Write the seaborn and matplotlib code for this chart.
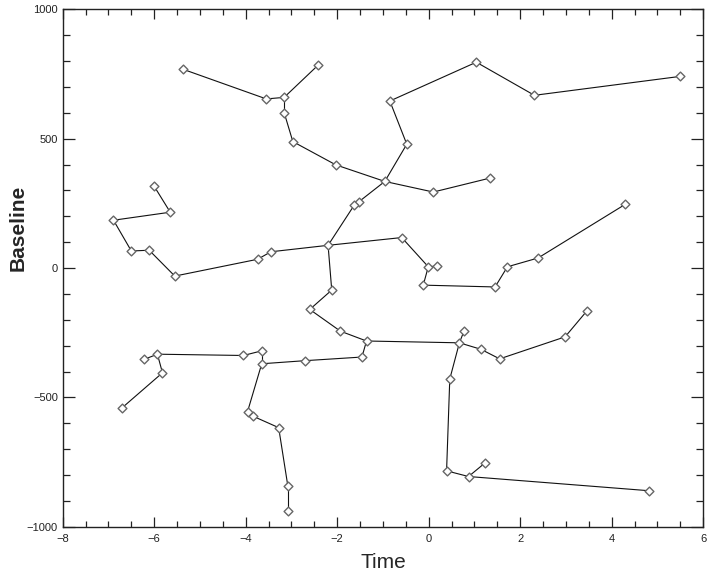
import matplotlib
matplotlib.use("Agg")
import matplotlib.pyplot as plt
from matplotlib.ticker import MultipleLocator
import numpy as np
import pandas as pd
import seaborn as sns

# Node positions of the baseline tree (time, baseline) and the parent of each node
time = [-0.96, -2.03, -2.97, -3.16, -3.16, -2.41, -3.55, -5.36,
        0.10, 1.34,
        -0.48, -0.85, 1.04, 2.31, 5.49,
        -1.53, -1.63, -2.20,
        -3.45, -3.74, -5.55, -6.11, -6.50, -6.89, -5.65, -6.01,
        -0.59, -0.01, 0.19, -0.12, 1.45, 1.72, 2.39, 4.30,
        -2.12, -2.60, -1.93, -1.36,
        0.67, 0.77, 1.14, 1.55, 2.98, 3.46,
        0.46, 0.39, 0.87, 1.24, 4.82,
        -1.46, -2.70, -3.65, -3.65, -4.05, -5.93, -6.22, -5.82, -6.70,
        -3.96, -3.85, -3.28, -3.08, -3.08]
baseline = [335, 399, 489, 601, 660, 786, 654, 768,
            294, 348,
            479, 646, 796, 668, 741,
            256, 243, 88,
            63, 34, -31, 69, 66, 185, 216, 319,
            118, 5, 8, -66, -73, 5, 39, 247,
            -85, -160, -244, -282,
            -289, -244, -314, -351, -266, -165,
            -429, -784, -806, -752, -861,
            -344, -358, -370, -320, -338, -333, -353, -405, -540,
            -555, -572, -617, -842, -939]
parent = [-1, 0, 1, 2, 3, 4, 4, 6,
          0, 8,
          0, 10, 11, 12, 13,
          0, 15, 16,
          17, 18, 19, 20, 21, 22, 23, 24,
          17, 26, 27, 27, 29, 30, 31, 32,
          17, 34, 35, 36,
          37, 38, 38, 40, 41, 42,
          38, 44, 45, 46, 46,
          37, 49, 50, 51, 52, 53, 54, 54, 56,
          51, 58, 59, 60, 61]

nodes = pd.DataFrame({"Time": time, "Baseline": baseline})

# One two-point segment per parent -> child link
rows = []
for child, par in enumerate(parent):
    if par < 0:
        continue
    rows.append({"seg": child, "Time": time[par], "Baseline": baseline[par]})
    rows.append({"seg": child, "Time": time[child], "Baseline": baseline[child]})
edges = pd.DataFrame(rows)

sns.set_style("ticks")
plt.rcParams["font.family"] = ["Liberation Sans", "DejaVu Sans"]

fig = plt.figure(figsize=(7.07, 5.76), dpi=100)
ax = fig.add_axes([0.0887, 0.0856, 0.906, 0.898])

sns.lineplot(data=edges, x="Time", y="Baseline", units="seg", estimator=None,
             sort=False, color="#111111", linewidth=0.8, ax=ax, legend=False)
sns.scatterplot(data=nodes, x="Time", y="Baseline", marker="D", s=20,
                facecolor="white", edgecolor="#666666", linewidth=1.0,
                ax=ax, zorder=3, legend=False)

ax.set_xlim(-8, 6)
ax.set_ylim(-1000, 1000)
ax.xaxis.set_major_locator(MultipleLocator(2))
ax.xaxis.set_minor_locator(MultipleLocator(0.5))
ax.yaxis.set_major_locator(MultipleLocator(500))
ax.yaxis.set_minor_locator(MultipleLocator(100))

ax.tick_params(which="both", direction="in", top=True, right=True,
               colors="#222222", labelsize=8, width=0.9)
ax.tick_params(axis="x", which="major", length=7.5)
ax.tick_params(axis="x", which="minor", length=4)
ax.tick_params(axis="y", which="major", length=8.5)
ax.tick_params(axis="y", which="minor", length=5)
ax.tick_params(axis="x", pad=5)
for sp in ax.spines.values():
    sp.set_color("#222222")
    sp.set_linewidth(1.0)

ax.set_xlabel("Time", fontsize=15, va="center")
ax.set_ylabel("Baseline", fontsize=15, fontweight="bold", va="center")
ax.xaxis.set_label_coords(0.5, -0.0695)
ax.yaxis.set_label_coords(-0.069, 0.577)

fig.savefig("out.png", dpi=100)
